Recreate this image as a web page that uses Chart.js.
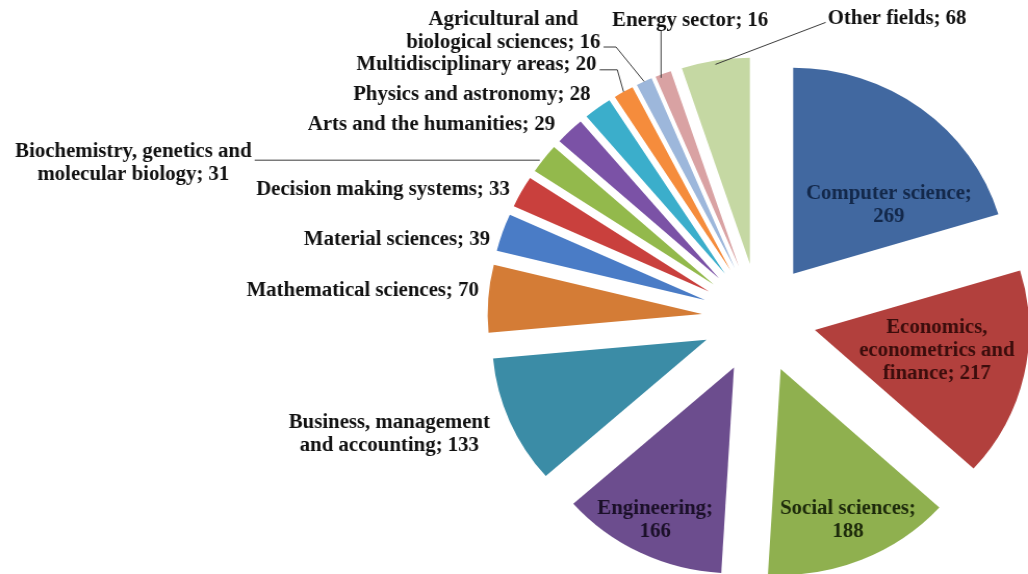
<!DOCTYPE html>
<html>
<head>
<meta charset="utf-8">
<script src="https://cdn.jsdelivr.net/npm/chart.js@4.4.0/dist/chart.umd.min.js"></script>
<style>
  html, body { margin: 0; padding: 0; background: #fff; overflow: hidden; }
  /* the source picture is a little wider than it is tall, so stretch the canvas */
  #wrap { position: relative; width: 988px; height: 574px; transform: scaleX(1.0405); transform-origin: 0 0; }
</style>
</head>
<body>
<div id="wrap"><canvas id="pie"></canvas></div>
<script>
// papers per field, clockwise from 12 o'clock
var fields = [
  'Computer science', 'Economics, econometrics and finance', 'Social sciences',
  'Engineering', 'Business, management and accounting', 'Mathematical sciences',
  'Material sciences', 'Decision making systems', 'Biochemistry, genetics and molecular biology',
  'Arts and the humanities', 'Physics and astronomy', 'Multidisciplinary areas',
  'Agricultural and biological sciences', 'Energy sector', 'Other fields'
];
var papers = [269, 217, 188, 166, 133, 70, 39, 33, 31, 29, 28, 20, 16, 16, 68];

var sliceColors = [
  '#4168a0', '#b2403d', '#8fb04f', '#6c4d8e', '#3b8ca6', '#d47c36', '#4a7cc6',
  '#c9403d', '#93b94c', '#7b52a6', '#3baecb', '#f58c3c', '#9db7db', '#d9a2a3', '#c5d8a3'
];

/**********
 * label layout (not data): words per line, where the block sits
 **********/
var EXPLODE = 55;
var FONT_SIZE = 20;
var LINE_H = 23;
var labelSpots = [
  {at: 'in', r: 0.558, turn: 16.6, words: [2, 1], color: '#13284a'},
  {at: 'in', r: 0.578, turn: -2.6, words: [1, 2, 2], color: '#3b0d0c'},
  {at: 'in', r: 0.798, turn: -1, words: [2, 1], color: '#1d2a0b'},
  {at: 'in', r: 0.83, turn: 0.3, words: [1, 1], color: '#1b1029'},
  {at: 'out', align: 'right', dx: -19, dy: 13, words: [2, 3]},
  {at: 'out', align: 'right', dx: -9, dy: -8},
  {at: 'out', align: 'right', dx: -12, dy: 7},
  {at: 'out', align: 'right', dx: -11, dy: -2},
  {at: 'out', align: 'right', dx: -281, dy: 5, words: [3, 3],
    leader: {kind: 'flat', line: 0, yOff: 8, gap: 4}},
  {at: 'out', align: 'right', dx: -14, dy: -6},
  {at: 'out', align: 'right', dx: -7, dy: -13},
  {at: 'out', align: 'right', dx: -26, dy: -27,
    leader: {kind: 'elbow', line: 0, yOff: 5, run: 17}},
  {at: 'out', align: 'right', dx: -42, dy: -50, words: [2, 3],
    leader: {kind: 'elbow', line: 1, yOff: 4, run: 12}},
  {at: 'out', align: 'center', dx: 26, dy: -53,
    leader: {kind: 'drop', shift: -2}},
  {at: 'out', align: 'left', dx: 108, dy: -42,
    leader: {kind: 'slant', yOff: 4}}
];

function splitLabel(text, words) {
  var parts = text.split(' ');
  if (!words) return [text];
  var lines = [], k = 0;
  for (var i = 0; i < words.length; i++) {
    lines.push(parts.slice(k, k + words[i]).join(' '));
    k += words[i];
  }
  return lines;
}

// pull every slice away from the centre along its bisector (Excel "explode")
var explodePlugin = {
  id: 'explode',
  afterDatasetUpdate: function (chart, args) {
    chart.getDatasetMeta(args.index).data.forEach(function (arc) {
      var mid = (arc.startAngle + arc.endAngle) / 2;
      arc.x += EXPLODE * Math.cos(mid);
      arc.y += EXPLODE * Math.sin(mid);
    });
  }
};

var labelPlugin = {
  id: 'sliceLabels',
  afterDatasetsDraw: function (chart) {
    var ctx = chart.ctx;
    var arcs = chart.getDatasetMeta(0).data;
    ctx.save();
    ctx.font = 'bold ' + FONT_SIZE + 'px "Liberation Serif", "Times New Roman", serif';
    ctx.textBaseline = 'middle';
    ctx.textAlign = 'center';
    arcs.forEach(function (arc, i) {
      var spot = labelSpots[i];
      var lines = splitLabel(fields[i] + '; ' + papers[i], spot.words);
      var widths = lines.map(function (l) { return ctx.measureText(l).width; });
      var w = Math.max.apply(null, widths);
      var h = lines.length * LINE_H;
      var mid = (arc.startAngle + arc.endAngle) / 2;
      var R = arc.outerRadius;
      var cx, cy;
      if (spot.at === 'in') {
        var a = mid + spot.turn * Math.PI / 180;
        cx = arc.x + R * spot.r * Math.cos(a);
        cy = arc.y + R * spot.r * Math.sin(a);
      } else {
        var ax = arc.x + R * Math.cos(mid);
        var ay = arc.y + R * Math.sin(mid);
        var px = ax + spot.dx;
        cy = ay + spot.dy;
        cx = spot.align === 'right' ? px - w / 2 : (spot.align === 'left' ? px + w / 2 : px);
        var ld = spot.leader;
        if (ld) {
          ctx.strokeStyle = '#3a3a3a';
          ctx.lineWidth = 1;
          ctx.beginPath();
          var top = cy - h / 2;
          if (ld.kind === 'flat' || ld.kind === 'elbow') {
            var ly = top + LINE_H * (ld.line + 0.5) + ld.yOff;
            var lx = cx + widths[ld.line] / 2 + 3;
            ctx.moveTo(lx, ly);
            if (ld.kind === 'flat') {
              ctx.lineTo(ax - ld.gap, ly);
            } else {
              ctx.lineTo(lx + ld.run, ly);
              ctx.lineTo(ax, ay);
            }
          } else if (ld.kind === 'drop') {
            ctx.moveTo(ax + ld.shift, top + h - 2);
            ctx.lineTo(ax + ld.shift, ay + 4);
          } else if (ld.kind === 'slant') {
            ctx.moveTo(cx - w / 2 - 2, cy + ld.yOff);
            ctx.lineTo(ax, ay + 4);
          }
          ctx.stroke();
        }
      }
      ctx.fillStyle = spot.color || '#111';
      lines.forEach(function (l, k) {
        ctx.fillText(l, cx, cy - h / 2 + LINE_H * (k + 0.5));
      });
    });
    ctx.restore();
  }
};

new Chart(document.getElementById('pie').getContext('2d'), {
  type: 'pie',
  data: {
    labels: fields,
    datasets: [{
      data: papers,
      backgroundColor: sliceColors,
      borderWidth: 0,
      clip: false
    }]
  },
  options: {
    responsive: true,
    maintainAspectRatio: false,
    animation: false,
    radius: 206,
    layout: { padding: { left: 471, top: 62, right: 0, bottom: 0 } },
    plugins: {
      legend: { display: false },
      tooltip: { enabled: false }
    }
  },
  plugins: [explodePlugin, labelPlugin]
});
</script>
</body>
</html>
